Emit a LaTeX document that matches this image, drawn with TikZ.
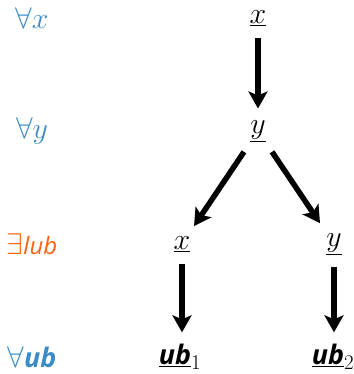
\documentclass[tikz,border=0pt]{standalone}
\usepackage{fix-cm}
\usepackage{fontspec}
\usepackage{tikz}
\usetikzlibrary{arrows.meta, positioning}
\newfontfamily\qsans{Open Sans}[Scale=0.8]
\newfontfamily\ubsans{Open Sans}[Scale=0.9]
\definecolor{quantBlue}{HTML}{3A8CC6}
\definecolor{quantOrange}{HTML}{FF6111}
\newcommand{\ubsf}{{\ubsans\bfseries\itshape ub}}

\begin{document}
\begin{tikzpicture}[
    x=1bp, y=1bp,
    node distance=113bp and 76bp, on grid,
    every node/.style={font=\fontsize{30}{36}\selectfont},
    term/.style={inner sep=2bp},
    quant/.style={inner sep=2bp, color=quantBlue},
    arrow/.style={-{Stealth[length=17bp, width=19bp, inset=4bp]}, line width=5.5bp,
                  shorten <=10bp, shorten >=10bp}
]
\useasboundingbox (0,0) rectangle (354,-374);

% Terms
\node[term] (x) at (258,-18) {$\underline{x}$};
\node[term, below=of x] (y) {$\underline{y}$};
\node[term, below left=of y] (xl) {$\underline{x}$};
\node[term, below right=of y] (yr) {$\underline{y}$};
\node[term, below=of xl, xshift=-2bp] (ub1) {$\underline{\mbox{\ubsf}}_1$};
\node[term, below=of yr, xshift=-1bp] (ub2) {$\underline{\mbox{\ubsf}}_2$};

% Quantifiers
\node[quant] (qx) at (32,-18) {$\forall x$};
\node[quant, below=of qx] (qy) {$\forall y$};
\node[quant, below=of qy, color=quantOrange] (qlub) {$\exists${\qsans\itshape lub}};
\node[quant, below=of qlub] (qub) {$\forall$\ubsf};

% Arrows
\draw[arrow] (x) -- (y);
\draw[arrow] (y) -- (xl);
\draw[arrow] (y) -- (yr);
\draw[arrow] (xl) -- (xl |- ub1.north);
\draw[arrow] (yr) -- (yr |- ub2.north);

\end{tikzpicture}
\end{document}
